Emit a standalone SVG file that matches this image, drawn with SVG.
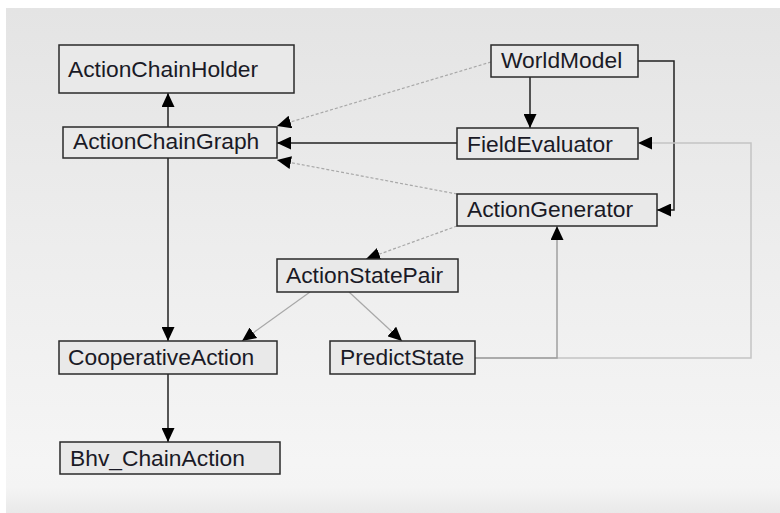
<svg xmlns="http://www.w3.org/2000/svg" width="780" height="513" viewBox="0 0 780 513">
<defs>
<linearGradient id="bg" x1="0" y1="0" x2="0" y2="1">
<stop offset="0" stop-color="#e4e4e4"/>
<stop offset="0.9" stop-color="#f5f5f5"/>
<stop offset="0.95" stop-color="#f4f4f4"/>
<stop offset="1" stop-color="#e9e9e9"/>
</linearGradient>
<marker id="ah" markerUnits="userSpaceOnUse" markerWidth="15" markerHeight="13" refX="14" refY="6.5" orient="auto">
<path d="M0,0 L14,6.5 L0,13 z" fill="#000"/>
</marker>
<style>
.box{fill:#e9e9e9;stroke:#2a2a2a;stroke-width:1.5}
.lbl{font-family:"Liberation Sans",Arial,sans-serif;font-size:22.8px;fill:#1a1a26}
.solid{fill:none;stroke:#222;stroke-width:1.5}
.dash{fill:none;stroke:#a8a8a8;stroke-width:1.2;stroke-dasharray:3,2}
.thin{fill:none;stroke:#a8a8a8;stroke-width:1.2}
.light{fill:none;stroke:#c4c4c4;stroke-width:1.5}
.gray{fill:none;stroke:#a0a0a0;stroke-width:1.5}
</style>
</defs>
<rect x="0" y="0" width="780" height="513" fill="#ffffff"/>
<rect x="6" y="8" width="774" height="505" fill="url(#bg)"/>
<g id="connectors">
<path class="solid" d="M168,127 L168,93" marker-end="url(#ah)"/>
<path class="dash" d="M491,62 L277,126" marker-end="url(#ah)"/>
<path class="solid" d="M457,143 L277,143" marker-end="url(#ah)"/>
<path class="dash" d="M457,194 L277,160" marker-end="url(#ah)"/>
<path class="solid" d="M530,77 L530,128" marker-end="url(#ah)"/>
<path class="solid" d="M638,61 L674,61 L674,210 L657,210" marker-end="url(#ah)"/>
<path class="light" d="M475,358 L751,358 L751,143 L638,143" marker-end="url(#ah)"/>
<path class="gray" d="M475,358 L557,358 L557,226" marker-end="url(#ah)"/>
<path class="dash" d="M457,226 L366,259" marker-end="url(#ah)"/>
<path class="solid" d="M168,158 L168,341" marker-end="url(#ah)"/>
<path class="thin" d="M310,292 L242,341" marker-end="url(#ah)"/>
<path class="thin" d="M349,292 L402,341" marker-end="url(#ah)"/>
<path class="solid" d="M168,374 L168,442" marker-end="url(#ah)"/>
</g>
<g id="ActionChainHolder"><rect class="box" x="59" y="45" width="235" height="48"/><text class="lbl" x="68" y="77">ActionChainHolder</text></g>
<g id="ActionChainGraph"><rect class="box" x="63" y="127" width="214" height="31"/><text class="lbl" x="73" y="149">ActionChainGraph</text></g>
<g id="WorldModel"><rect class="box" x="491" y="45" width="147" height="32"/><text class="lbl" x="501" y="68">WorldModel</text></g>
<g id="FieldEvaluator"><rect class="box" x="457" y="128" width="181" height="31"/><text class="lbl" x="467" y="152">FieldEvaluator</text></g>
<g id="ActionGenerator"><rect class="box" x="457" y="194" width="200" height="32"/><text class="lbl" x="467" y="217">ActionGenerator</text></g>
<g id="ActionStatePair"><rect class="box" x="277" y="259" width="181" height="33"/><text class="lbl" x="286" y="283">ActionStatePair</text></g>
<g id="CooperativeAction"><rect class="box" x="59" y="341" width="218" height="33"/><text class="lbl" x="68" y="365">CooperativeAction</text></g>
<g id="PredictState"><rect class="box" x="330" y="341" width="145" height="33"/><text class="lbl" x="340" y="365">PredictState</text></g>
<g id="Bhv_ChainAction"><rect class="box" x="60" y="442" width="220" height="32"/><text class="lbl" x="70" y="466">Bhv_ChainAction</text></g>
</svg>
